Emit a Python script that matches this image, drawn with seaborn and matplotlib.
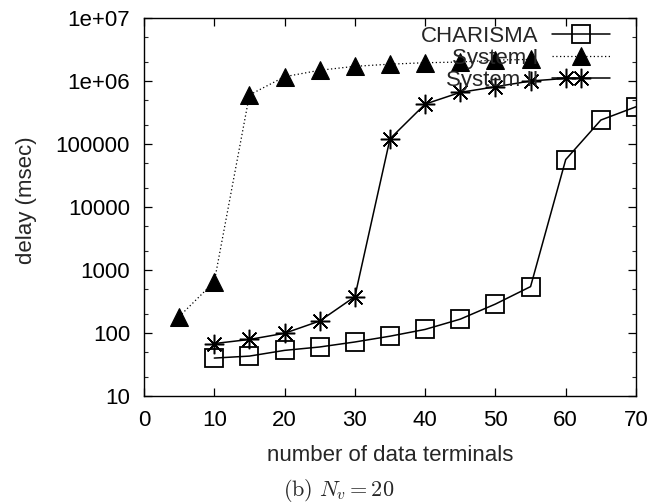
import numpy as np
import pandas as pd
import seaborn as sns
import matplotlib.pyplot as plt
from matplotlib.ticker import LogLocator, FixedLocator, NullFormatter

# values (delay in msec)
n_charisma = [10, 15, 20, 25, 30, 35, 40, 45, 50, 55, 60, 65, 70]
d_charisma = [40, 43, 53, 60, 72, 89, 114, 166, 288, 545, 56600, 240000, 390000]

n_sys1 = [5, 10, 15, 20, 25, 30, 35, 40, 45, 50, 55]
d_sys1 = [182, 650, 600000, 1170000, 1480000, 1710000, 1850000, 1950000, 2000000, 2150000, 2200000]

n_sys2 = [10, 15, 20, 25, 30, 35, 40, 45, 50, 55, 60]
d_sys2 = [68, 79, 99, 155, 377, 121000, 430000, 660000, 810000, 1000000, 1100000]

x_ticks = [0, 10, 20, 30, 40, 50, 60, 70]
y_ticks = [10, 100, 1000, 10000, 100000, 1000000, 10000000]
y_ticklabels = ["10", "100", "1000", "10000", "100000", "1e+06", "1e+07"]

sns.set_style("ticks")
plt.rcParams["font.family"] = ["Liberation Sans", "DejaVu Sans"]
plt.rcParams["mathtext.fontset"] = "cm"

fig = plt.figure(figsize=(6.58, 5.04), dpi=100)
ax = fig.add_axes([144 / 658, 1 - 396 / 504, 492 / 658, 378 / 504])

asterisk = (8, 2, 0)

sns.lineplot(x=n_charisma, y=d_charisma, ax=ax, color="black", linewidth=1.1,
             marker="s", markersize=13, markerfacecolor="none",
             markeredgecolor="black", markeredgewidth=1.3, label="CHARISMA")
sns.lineplot(x=n_sys1, y=d_sys1, ax=ax, color="black", linewidth=0.9, linestyle=(0, (1, 2)),
             marker="^", markersize=12.5, markerfacecolor="black",
             markeredgecolor="black", label="System I")
sns.lineplot(x=n_sys2, y=d_sys2, ax=ax, color="black", linewidth=1.1,
             marker=asterisk, markersize=14, markeredgecolor="black",
             markeredgewidth=1.1, label="System II")

ax.set_yscale("log")
ax.set_xlim(0, 70)
ax.set_ylim(10, 1e7)
ax.set_xticks(x_ticks)
ax.set_xticklabels([str(v) for v in x_ticks])
ax.yaxis.set_major_locator(FixedLocator(y_ticks))
ax.set_yticklabels(y_ticklabels)
ax.yaxis.set_minor_locator(LogLocator(base=10, subs=(2.0, 5.0)))
ax.yaxis.set_minor_formatter(NullFormatter())
ax.xaxis.set_minor_locator(FixedLocator([]))

for s in ax.spines.values():
    s.set_visible(True)
    s.set_linewidth(1.0)
    s.set_color("black")

ax.tick_params(which="major", direction="in", length=6, width=0.9, labelsize=16,
               top=True, right=True, pad=10, colors="black")
ax.tick_params(which="minor", direction="in", length=3, width=0.8, top=False, right=True)

ax.set_xlabel("number of data terminals", fontsize=16, labelpad=10)
ax.set_ylabel("delay (msec)", fontsize=16)
ax.yaxis.set_label_coords(-0.2175, 0.518)

leg = ax.legend(loc="upper right", bbox_to_anchor=(0.947, 0.979), frameon=False,
                markerfirst=False, fontsize=16, handlelength=2.6, handletextpad=0.6,
                labelspacing=0.05, borderaxespad=0, borderpad=0)

fig.text(339 / 658, 1 - 491 / 504, r"$\mathrm{(b)}\ N_v = 20$", ha="center", va="center",
         fontsize=16)

fig.savefig("out.png", dpi=100)
